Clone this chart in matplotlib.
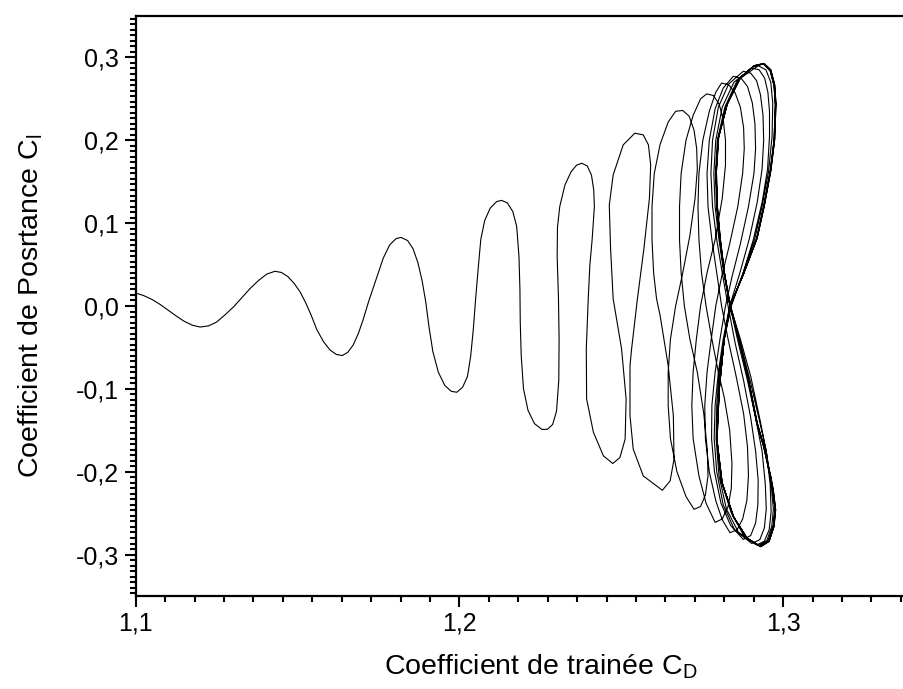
import numpy as np
import matplotlib
matplotlib.use('Agg')
import matplotlib.pyplot as plt
from matplotlib.ticker import MultipleLocator, FuncFormatter

# points as (Cd, Cl)
# transient: growing oscillation up to the fifth upper finger
transient = [
    (1.1000, 0.0157), (1.1025, 0.0125), (1.1050, 0.0080), (1.1075, 0.0020), (1.1100, -0.0050),
    (1.1125, -0.0120), (1.1150, -0.0185), (1.1175, -0.0232), (1.1199, -0.0254), (1.1225, -0.0240),
    (1.1250, -0.0194), (1.1275, -0.0110), (1.1302, -0.0012), (1.1328, 0.0100), (1.1353, 0.0209),
    (1.1380, 0.0310), (1.1405, 0.0385), (1.1430, 0.0419), (1.1450, 0.0405), (1.1470, 0.0355),
    (1.1490, 0.0270), (1.1508, 0.0169), (1.1525, 0.0040), (1.1542, -0.0110), (1.1559, -0.0280),
    (1.1580, -0.0430), (1.1600, -0.0530), (1.1620, -0.0585), (1.1638, -0.0598), (1.1655, -0.0560),
    (1.1672, -0.0470), (1.1688, -0.0330), (1.1703, -0.0160), (1.1720, 0.0060), (1.1745, 0.0350),
    (1.1765, 0.0580), (1.1785, 0.0740), (1.1805, 0.0815), (1.1820, 0.0827), (1.1840, 0.0790),
    (1.1857, 0.0690), (1.1872, 0.0520), (1.1885, 0.0300), (1.1896, 0.0050), (1.1906, -0.0250),
    (1.1918, -0.0550), (1.1935, -0.0800), (1.1955, -0.0960), (1.1975, -0.1030), (1.1992, -0.1041),
    (1.2010, -0.0980), (1.2025, -0.0850), (1.2035, -0.0600), (1.2043, -0.0280), (1.2050, 0.0080),
    (1.2058, 0.0450), (1.2066, 0.0800), (1.2078, 0.1030), (1.2095, 0.1180), (1.2115, 0.1260),
    (1.2130, 0.1275), (1.2148, 0.1245), (1.2165, 0.1140), (1.2177, 0.0960), (1.2184, 0.0600),
    (1.2187, 0.0200), (1.2188, -0.0200), (1.2191, -0.0600), (1.2198, -0.1000), (1.2212, -0.1260),
    (1.2232, -0.1420), (1.2255, -0.1490), (1.2272, -0.1488), (1.2288, -0.1430), (1.2300, -0.1270),
    (1.2307, -0.0900), (1.2308, -0.0400), (1.2306, 0.0100), (1.2302, 0.0600), (1.2303, 0.0950),
    (1.2310, 0.1200), (1.2326, 0.1460), (1.2345, 0.1620), (1.2362, 0.1700), (1.2378, 0.1723),
    (1.2395, 0.1690), (1.2408, 0.1580), (1.2415, 0.1400), (1.2417, 0.1200), (1.2410, 0.0800),
    (1.2403, 0.0492), (1.2398, 0.0088), (1.2392, -0.0517), (1.2393, -0.1122), (1.2414, -0.1525),
    (1.2445, -0.1809), (1.2474, -0.1901), (1.2496, -0.1828), (1.2512, -0.1607), (1.2515, -0.1122),
    (1.2501, -0.0517), (1.2475, 0.0088), (1.2467, 0.0693), (1.2463, 0.1218), (1.2475, 0.1581),
    (1.2506, 0.1944), (1.2542, 0.2086), (1.2568, 0.2065), (1.2584, 0.1944), (1.2591, 0.1702),
    (1.2587, 0.1299), (1.2570, 0.0693), (1.2550, 0.0088), (1.2532, -0.0517), (1.2527, -0.0719),
    (1.2527, -0.1324), (1.2537, -0.1727), (1.2568, -0.2051), (1.2627, -0.2224), (1.2651, -0.2111),
    (1.2663, -0.1849), (1.2661, -0.1324), (1.2645, -0.0719), (1.2620, -0.0114), (1.2609, 0.0088),
]

# following cycles, each: upper lobe then lower lobe
cycle_f = [
    (1.2600, 0.040), (1.2595, 0.080), (1.2595, 0.120), (1.2602, 0.160), (1.2620, 0.195),
    (1.2645, 0.222), (1.2668, 0.235), (1.2690, 0.236), (1.2710, 0.229), (1.2725, 0.212),
    (1.2733, 0.190), (1.2735, 0.165), (1.2728, 0.130), (1.2712, 0.085), (1.2690, 0.040),
    (1.2668, 0.000), (1.2652, -0.040), (1.2645, -0.080), (1.2645, -0.120), (1.2652, -0.160),
    (1.2672, -0.200), (1.2700, -0.230), (1.2725, -0.2454), (1.2745, -0.242), (1.2760, -0.228),
    (1.2768, -0.205), (1.2766, -0.175), (1.2755, -0.130), (1.2735, -0.080), (1.2712, -0.040),
    (1.2695, 0.000),
]
cycle_g = [
    (1.2685, 0.040), (1.2680, 0.080), (1.2680, 0.120), (1.2685, 0.160), (1.2700, 0.200),
    (1.2722, 0.230), (1.2745, 0.250), (1.2764, 0.256), (1.2785, 0.254), (1.2803, 0.243),
    (1.2815, 0.225), (1.2822, 0.200), (1.2822, 0.170), (1.2812, 0.130), (1.2790, 0.080),
    (1.2765, 0.040), (1.2745, 0.000), (1.2732, -0.040), (1.2722, -0.080), (1.2718, -0.120),
    (1.2722, -0.160), (1.2740, -0.205), (1.2762, -0.238), (1.2790, -0.2612), (1.2812, -0.257),
    (1.2830, -0.242), (1.2840, -0.220), (1.2842, -0.190), (1.2835, -0.150), (1.2818, -0.110),
    (1.2800, -0.080), (1.2780, -0.040), (1.2762, 0.000),
]
cycle_h = [
    (1.2748, 0.040), (1.2740, 0.080), (1.2737, 0.120), (1.2740, 0.160), (1.2752, 0.200),
    (1.2772, 0.235), (1.2792, 0.258), (1.2810, 0.2691), (1.2832, 0.267), (1.2852, 0.257),
    (1.2868, 0.240), (1.2878, 0.215), (1.2880, 0.190), (1.2875, 0.160), (1.2860, 0.120),
    (1.2835, 0.075), (1.2810, 0.035), (1.2792, 0.000), (1.2778, -0.040), (1.2765, -0.080),
    (1.2758, -0.120), (1.2760, -0.160), (1.2772, -0.200), (1.2792, -0.235), (1.2812, -0.258),
    (1.2836, -0.2736), (1.2858, -0.270), (1.2875, -0.257), (1.2888, -0.235), (1.2893, -0.205),
    (1.2890, -0.170), (1.2878, -0.130), (1.2855, -0.085), (1.2830, -0.040), (1.2810, 0.000),
]
cycle_i = [
    (1.2795, 0.040), (1.2780, 0.080), (1.2768, 0.120), (1.2765, 0.160), (1.2772, 0.200),
    (1.2790, 0.238), (1.2815, 0.263), (1.2846, 0.2772), (1.2870, 0.275), (1.2890, 0.265),
    (1.2905, 0.245), (1.2913, 0.220), (1.2915, 0.190), (1.2910, 0.160), (1.2893, 0.120),
    (1.2868, 0.075), (1.2842, 0.035), (1.2822, 0.000), (1.2805, -0.040), (1.2790, -0.080),
    (1.2780, -0.120), (1.2779, -0.160), (1.2788, -0.200), (1.2808, -0.238), (1.2838, -0.265),
    (1.2877, -0.2817), (1.2900, -0.277), (1.2915, -0.262), (1.2922, -0.240), (1.2923, -0.210),
    (1.2915, -0.175), (1.2900, -0.135), (1.2878, -0.090), (1.2852, -0.045), (1.2830, 0.000),
]
cycle_j = [
    (1.2812, 0.040), (1.2795, 0.080), (1.2782, 0.120), (1.2777, 0.160), (1.2782, 0.200),
    (1.2800, 0.240), (1.2832, 0.268), (1.2877, 0.2833), (1.2900, 0.281), (1.2918, 0.272),
    (1.2930, 0.255), (1.2938, 0.230), (1.2940, 0.200), (1.2935, 0.165), (1.2920, 0.125),
    (1.2895, 0.080), (1.2865, 0.038), (1.2835, 0.000), (1.2815, -0.040), (1.2800, -0.080),
    (1.2790, -0.120), (1.2787, -0.160), (1.2795, -0.200), (1.2815, -0.240), (1.2850, -0.270),
    (1.2903, -0.2866), (1.2928, -0.282), (1.2942, -0.268), (1.2948, -0.245), (1.2945, -0.215),
    (1.2935, -0.175), (1.2915, -0.135), (1.2890, -0.090), (1.2862, -0.045), (1.2836, 0.000),
]
cycle_k = [
    (1.2817, 0.040), (1.2802, 0.080), (1.2790, 0.120), (1.2786, 0.160), (1.2792, 0.200),
    (1.2812, 0.240), (1.2848, 0.270), (1.2903, 0.2873), (1.2926, 0.285), (1.2943, 0.275),
    (1.2953, 0.258), (1.2958, 0.235), (1.2958, 0.205), (1.2952, 0.165), (1.2935, 0.125),
    (1.2908, 0.080), (1.2875, 0.038), (1.2840, 0.000), (1.2818, -0.040), (1.2803, -0.080),
    (1.2795, -0.120), (1.2793, -0.160), (1.2802, -0.205), (1.2825, -0.245), (1.2862, -0.273),
    (1.2918, -0.2885), (1.2942, -0.284), (1.2957, -0.270), (1.2963, -0.248), (1.2960, -0.215),
    (1.2948, -0.175), (1.2925, -0.135), (1.2898, -0.090), (1.2868, -0.045), (1.2838, 0.000),
]
cycle_l = [
    (1.2818, 0.040), (1.2804, 0.080), (1.2795, 0.120), (1.2791, 0.160), (1.2797, 0.200),
    (1.2820, 0.240), (1.2858, 0.272), (1.2923, 0.2900), (1.2947, 0.285), (1.2962, 0.270),
    (1.2968, 0.245), (1.2966, 0.205), (1.2955, 0.162), (1.2935, 0.120), (1.2912, 0.080),
    (1.2875, 0.038), (1.2838, 0.000), (1.2818, -0.040), (1.2803, -0.100), (1.2795, -0.160),
    (1.2808, -0.210), (1.2840, -0.250), (1.2880, -0.278), (1.2925, -0.2892), (1.2950, -0.283),
    (1.2965, -0.266), (1.2970, -0.245), (1.2963, -0.215), (1.2950, -0.180), (1.2930, -0.140),
    (1.2900, -0.085), (1.2868, -0.040), (1.2837, 0.000),
]
# settled figure-eight, traced twice as two close passes
limit_a = [
    (1.2818, 0.040), (1.2805, 0.081), (1.2796, 0.120), (1.2793, 0.162), (1.2800, 0.203),
    (1.2826, 0.243), (1.2867, 0.275), (1.2908, 0.289), (1.2939, 0.2921), (1.2960, 0.284),
    (1.2972, 0.266), (1.2976, 0.243), (1.2972, 0.200), (1.2960, 0.162), (1.2940, 0.120),
    (1.2918, 0.081), (1.2877, 0.038), (1.2836, 0.000), (1.2818, -0.040), (1.2802, -0.100),
    (1.2795, -0.161), (1.2811, -0.213), (1.2846, -0.254), (1.2888, -0.280), (1.2929, -0.2898),
    (1.2955, -0.283), (1.2970, -0.265), (1.2975, -0.245), (1.2968, -0.222), (1.2960, -0.205),
    (1.2940, -0.170), (1.2918, -0.140), (1.2888, -0.080), (1.2860, -0.035), (1.2836, 0.000),
]
limit_b = [
    (1.2819, 0.040), (1.2806, 0.081), (1.2797, 0.120), (1.2794, 0.162), (1.2801, 0.204),
    (1.2828, 0.244), (1.2869, 0.276), (1.2910, 0.290), (1.2941, 0.2928), (1.2962, 0.285),
    (1.2974, 0.267), (1.2978, 0.244), (1.2974, 0.201), (1.2962, 0.163), (1.2942, 0.121),
    (1.2920, 0.082), (1.2878, 0.039), (1.2836, 0.000), (1.2818, -0.040), (1.2803, -0.100),
    (1.2796, -0.162), (1.2812, -0.214), (1.2848, -0.255), (1.2890, -0.281), (1.2931, -0.2905),
    (1.2957, -0.284), (1.2972, -0.266), (1.2977, -0.246), (1.2970, -0.223), (1.2962, -0.206),
    (1.2942, -0.171), (1.2920, -0.141), (1.2889, -0.081), (1.2861, -0.036), (1.2836, 0.000),
]

path = transient + cycle_f + cycle_g + cycle_h + cycle_i + cycle_j + cycle_k + cycle_l
path = path + limit_a + limit_b + limit_a + limit_b
cd = [p[0] for p in path]
cl = [p[1] for p in path]

plt.rcParams['font.family'] = ['Liberation Sans', 'DejaVu Sans']
plt.rcParams['mathtext.fontset'] = 'custom'
plt.rcParams['mathtext.rm'] = 'Liberation Sans'

fig = plt.figure(figsize=(9.04, 6.89), dpi=100)
# axes run past the right border of the picture, as in the original export
ax = fig.add_axes([135.7 / 904, 93 / 689, 0.25 * 3237 / 904, 580 / 689])

ax.plot(cd, cl, color='black', lw=0.8)

ax.set_xlim(1.1, 1.35)
ax.set_ylim(-0.35, 0.35)
ax.xaxis.set_major_locator(MultipleLocator(0.1))
ax.xaxis.set_minor_locator(MultipleLocator(0.1 / 11))
ax.yaxis.set_major_locator(MultipleLocator(0.1))
ax.yaxis.set_minor_locator(MultipleLocator(0.1 / 15))
comma = FuncFormatter(lambda v, pos: ('%.1f' % v).replace('.', ','))
ax.xaxis.set_major_formatter(comma)
ax.yaxis.set_major_formatter(comma)

ax.spines['right'].set_visible(False)
for s in ['left', 'bottom', 'top']:
    ax.spines[s].set_linewidth(1.6)
ax.tick_params(which='major', direction='out', length=8, width=1.5, labelsize=18)
ax.tick_params(axis='x', which='major', pad=3)
ax.tick_params(axis='y', which='major', pad=4)
ax.tick_params(which='minor', direction='out', length=4.5, width=1.5)
ax.tick_params(top=False, right=False)

ax.set_xlabel('Coefficient de trainée C$_{\\mathregular{D}}$', fontsize=20.5, labelpad=12)
ax.set_ylabel('Coefficient de Posrtance C$_{\\mathregular{l}}$', fontsize=20.5, labelpad=22)

fig.savefig('out.png', dpi=100)
